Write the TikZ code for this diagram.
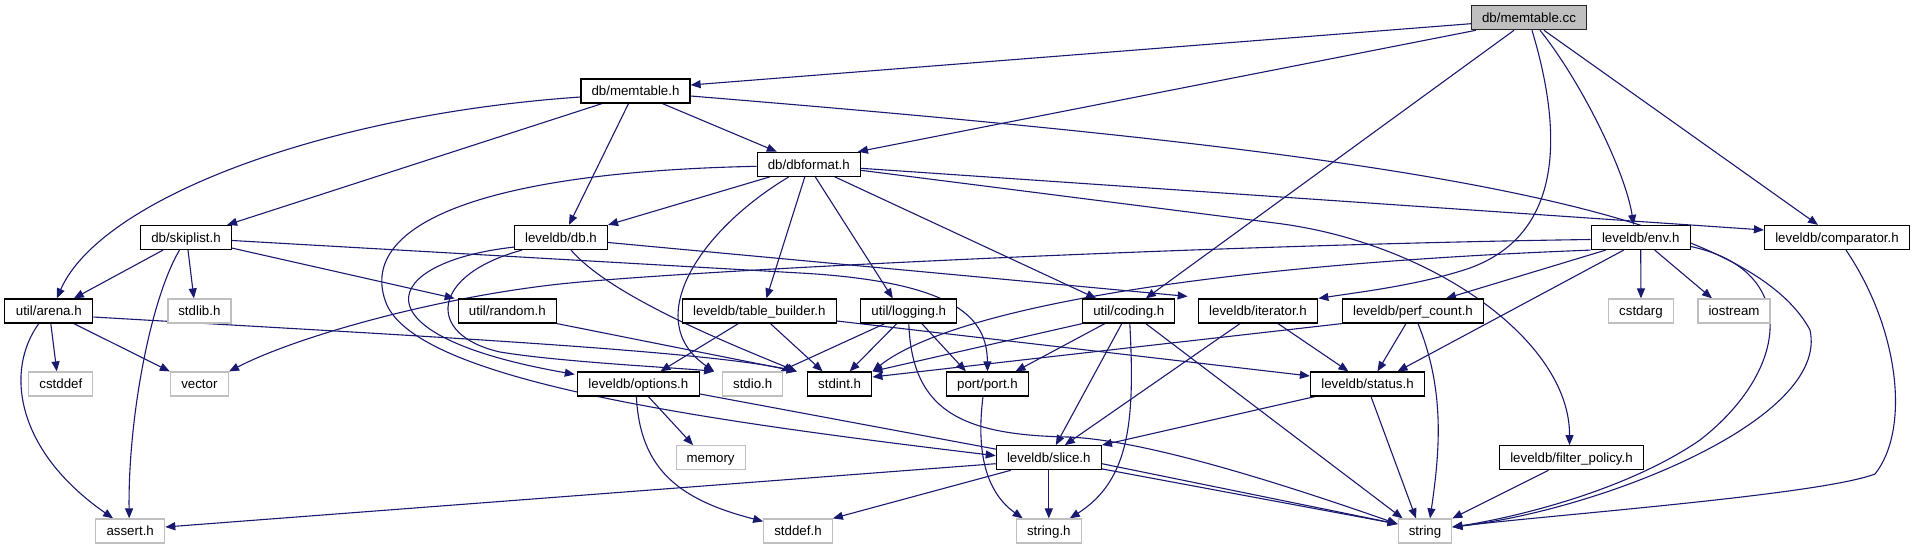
\documentclass[tikz,border=0pt]{standalone}
\usepackage{fontspec}
\setmainfont{Liberation Sans}
\usetikzlibrary{arrows.meta}
\definecolor{edgecol}{HTML}{191970}
\definecolor{graybox}{HTML}{BFBFBF}
\pgfdeclarelayer{background}
\pgfsetlayers{background,main}
\begin{document}
\begin{tikzpicture}[x=1pt,y=-1pt,
  box/.style={draw=black, line width=1.2pt, fill=white, minimum height=24pt, inner sep=0pt,
    text height=9.6pt, text depth=0pt, font=\fontsize{13.3}{15}\selectfont},
  sys/.style={box, draw=graybox},
  mainfile/.style={box, fill=graybox, draw=black!85},
  edge/.style={draw=edgecol, line width=1.1pt, -{Triangle[length=10pt,width=8pt]}}]
\useasboundingbox (0,0) rectangle (1915,549);
% nodes
\node[mainfile, minimum width=115pt] (mcc) at (1529,17.7) {db/memtable.cc};
\node[box, minimum width=109pt] (mth) at (635.5,91) {db/memtable.h};
\node[box, minimum width=103pt] (dbf) at (808.8,164.3) {db/dbformat.h};
\node[box, minimum width=91pt] (skl) at (186,237.5) {db/skiplist.h};
\node[box, minimum width=93pt] (dbh) at (561,237.5) {leveldb/db.h};
\node[box, minimum width=99pt] (env) at (1640.7,237.5) {leveldb/env.h};
\node[box, minimum width=145pt] (cmp) at (1837,237.5) {leveldb/comparator.h};
\node[box, minimum width=88pt] (arena) at (48.8,311) {util/arena.h};
\node[sys, minimum width=63pt] (stdlib) at (199.4,311) {stdlib.h};
\node[box, minimum width=98pt] (random) at (507.3,311) {util/random.h};
\node[box, minimum width=154pt] (tb) at (759.4,311) {leveldb/table\_builder.h};
\node[box, minimum width=96pt] (lg) at (908.8,311) {util/logging.h};
\node[box, minimum width=92pt] (cd) at (1128.8,311) {util/coding.h};
\node[box, minimum width=119.5pt] (it) at (1258,311) {leveldb/iterator.h};
\node[box, minimum width=141pt] (pc) at (1413,311) {leveldb/perf\_count.h};
\node[sys, minimum width=65pt] (cstdarg) at (1641,311) {cstdarg};
\node[sys, minimum width=72pt] (iostream) at (1734,311) {iostream};
\node[sys, minimum width=64pt] (cstddef) at (60.8,384) {cstddef};
\node[sys, minimum width=58pt] (vector) at (199.4,384) {vector};
\node[box, minimum width=122pt] (opt) at (638.4,384) {leveldb/options.h};
\node[sys, minimum width=60pt] (stdio) at (752.7,384) {stdio.h};
\node[box, minimum width=64.5pt] (stdint) at (839.6,384) {stdint.h};
\node[box, minimum width=82pt] (port) at (987.5,384) {port/port.h};
\node[box, minimum width=114pt] (status) at (1367.5,384) {leveldb/status.h};
\node[sys, minimum width=69pt] (memory) at (710.6,457.7) {memory};
\node[box, minimum width=105pt] (slice) at (1048.8,457.7) {leveldb/slice.h};
\node[box, minimum width=144pt] (fp) at (1571.5,457.7) {leveldb/filter\_policy.h};
\node[sys, minimum width=69pt] (assert) at (130.2,531) {assert.h};
\node[sys, minimum width=68.5pt] (stddef) at (798,531) {stddef.h};
\node[sys, minimum width=65pt] (stringh) at (1048.8,531) {string.h};
\node[sys, minimum width=53.5pt] (string) at (1425,531) {string};
\begin{pgfonlayer}{background}
% db/memtable.cc
\draw[edge] ([yshift=-6]mcc.west) -- ([yshift=6]mth.east);
\draw[edge] ([xshift=5]mcc.south west) -- ([xshift=-3]dbf.north east);
\draw[edge] ([xshift=-15]mcc.south) -- ([xshift=17]cd.north);
\draw[edge] ([xshift=3]mcc.south) .. controls (1565,140) and (1560,235) .. (1470,268) .. controls (1420,285) and (1360,292) .. (it.north east);
\draw[edge] ([xshift=11]mcc.south) .. controls (1580,80) and (1625,170) .. ([xshift=-7]env.north);
\draw[edge] ([xshift=15]mcc.south) -- ([xshift=-19]cmp.north);
% db/memtable.h
\draw[edge] ([yshift=-6]mth.west) .. controls (320,115) and (100,200) .. ([xshift=8]arena.north);
\draw[edge] ([xshift=-33.5]mth.south) -- ([xshift=-5]skl.north east);
\draw[edge] ([xshift=-7]mth.south) -- ([xshift=8]dbh.north);
\draw[edge] ([xshift=27]mth.south) -- ([xshift=-32]dbf.north);
\draw[edge] ([yshift=-5]mth.east) .. controls (1350,150) and (1740,200) .. (1810,330) .. controls (1830,420) and (1600,510) .. ([yshift=4]string.east);
% db/dbformat.h
\draw[edge] ([yshift=-2]dbf.west) .. controls (480,172) and (360,225) .. (385,300) .. controls (410,380) and (700,420) .. ([yshift=2]slice.west);
\draw[edge] ([xshift=13]dbf.south west) -- (dbh.north east);
\draw[edge] ([xshift=-20]dbf.south) .. controls (700,230) and (640,320) .. ([xshift=-8]stdio.north west);
\draw[edge] ([xshift=-4]dbf.south) -- ([xshift=7]tb.north);
\draw[edge] ([xshift=6.5]dbf.south) -- ([xshift=-16]lg.north);
\draw[edge] ([xshift=-26]dbf.south east) -- ([xshift=14]cd.north west);
\draw[edge] ([yshift=-4]dbf.east) -- ([yshift=7.5]cmp.west);
\draw[edge] ([yshift=-6]dbf.east) -- (1275,223) .. controls (1430,242) and (1570,340) .. ([xshift=-2]fp.north);
% db/skiplist.h
\draw[edge] ([xshift=-23]skl.south) -- ([xshift=25]arena.north);
\draw[edge] ([xshift=-6.5]skl.south) .. controls (150,300) and (128,420) .. ([xshift=-1]assert.north);
\draw[edge] ([xshift=2]skl.south) -- ([xshift=-5.5]stdlib.north);
\draw[edge] ([yshift=2]skl.south east) -- ([xshift=-3]random.north west);
\draw[edge] ([yshift=-3]skl.east) -- (800,273) .. controls (960,282) and (987,320) .. (port.north);
% leveldb/db.h
\draw[edge] ([yshift=-5]dbh.east) -- ([xshift=-10,yshift=2]it.north west);
\draw[edge] ([yshift=3]dbh.south west) .. controls (380,262) and (350,335) .. ([xshift=-2,yshift=-3]opt.north west);
\draw[edge] ([xshift=-39]dbh.south) .. controls (430,275) and (425,335) .. (500,352) .. controls (560,362) and (680,368) .. ([xshift=-8]stdio.north west);
\draw[edge] ([xshift=10]dbh.south) .. controls (610,295) and (720,340) .. ([xshift=-10]stdint.north west);
% util/arena.h
\draw[edge] ([xshift=2]arena.south) -- ([xshift=-4]cstddef.north);
\draw[edge] ([xshift=25]arena.south) -- (vector.north west);
\draw[edge] ([xshift=-10]arena.south) .. controls (5,370) and (15,450) .. ([xshift=18]assert.north west);
\draw[edge] ([yshift=-6]arena.east) .. controls (400,335) and (700,350) .. ([xshift=-10]stdint.north west);
% util/random.h
\draw[edge] (random.south east) -- ([xshift=-10]stdint.north west);
% leveldb/options.h
\draw[edge] ([xshift=10]opt.south) -- ([xshift=-17.5]memory.north);
\draw[edge] ([xshift=-2]opt.south) .. controls (640,470) and (680,500) .. ([yshift=-3]stddef.north west);
\draw[edge] ([yshift=-10]opt.east) -- ([yshift=7]string.west);
% leveldb/table_builder.h
\draw[edge] ([xshift=-21]tb.south) -- ([xshift=22]opt.north);
\draw[edge] ([xshift=11]tb.south) -- ([xshift=-17]stdint.north);
\draw[edge] ([yshift=-10]tb.east) -- ([yshift=8]status.west);
% util/logging.h
\draw[edge] ([xshift=-24]lg.south) -- ([xshift=-3]stdio.north east);
\draw[edge] ([xshift=-12]lg.south) -- ([xshift=10]stdint.north);
\draw[edge] ([xshift=13]lg.south) -- ([xshift=20]port.north west);
\draw[edge] (lg.south) .. controls (912,410) and (960,435) .. (1068,437) .. controls (1150,440) and (1300,490) .. ([yshift=7]string.west);
% util/coding.h
\draw[edge] (cd.south west) -- (stdint.north east);
\draw[edge] ([xshift=-24]cd.south) -- ([xshift=28]port.north);
\draw[edge] ([xshift=-7]cd.south) -- ([xshift=7]slice.north);
\draw[edge] ([xshift=1]cd.south) .. controls (1135,420) and (1130,480) .. ([xshift=21]stringh.north);
\draw[edge] ([xshift=17]cd.south) -- ([xshift=5]string.north west);
% leveldb/iterator.h
\draw[edge] ([xshift=-18]it.south) -- ([xshift=16]slice.north);
\draw[edge] ([xshift=20]it.south) -- ([xshift=-19]status.north);
% leveldb/env.h
\draw[edge] ([yshift=-2]env.west) .. controls (1200,245) and (680,271) .. (560,284) .. controls (440,297) and (300,335) .. (vector.north east);
\draw[edge] (env.south west) .. controls (1200,265) and (950,310) .. (stdint.north east);
\draw[edge] ([xshift=-35]env.south) -- ([xshift=33]pc.north);
\draw[edge] ([xshift=-17]env.south) -- ([xshift=30]status.north);
\draw[edge] (env.south) -- (cstdarg.north);
\draw[edge] ([xshift=14]env.south) -- ([xshift=-22]iostream.north);
\draw[edge] ([yshift=-9]env.east) .. controls (1800,270) and (1790,370) .. (1700,440) .. controls (1620,495) and (1500,520) .. ([yshift=4]string.east);
% leveldb/comparator.h
\draw[edge] ([xshift=9]cmp.south) .. controls (1900,330) and (1910,430) .. (1875,474) .. controls (1820,495) and (1550,515) .. ([yshift=4]string.east);
% leveldb/perf_count.h
\draw[edge] (pc.south west) -- ([yshift=7]stdint.east);
\draw[edge] ([xshift=-7]pc.south) -- ([xshift=10]status.north);
\draw[edge] ([xshift=5]pc.south) .. controls (1445,390) and (1440,450) .. ([xshift=5]string.north);
% leveldb/status.h
\draw[edge] ([xshift=5]status.south west) -- (slice.north east);
\draw[edge] ([xshift=3.5]status.south) -- ([xshift=-9]string.north);
% leveldb/slice.h
\draw[edge] ([yshift=-6]slice.west) -- ([yshift=4]assert.east);
\draw[edge] ([xshift=15]slice.south west) -- (stddef.north east);
\draw[edge] (slice.south) -- (stringh.north);
\draw[edge] ([yshift=-6]slice.east) -- ([yshift=7]string.west);
% port/port.h
\draw[edge] ([xshift=-4.5]port.south) .. controls (975,460) and (990,495) .. ([xshift=7]stringh.north west);
% leveldb/filter_policy.h
\draw[edge] ([xshift=-23]fp.south) -- (string.north east);
\end{pgfonlayer}
\end{tikzpicture}
\end{document}
